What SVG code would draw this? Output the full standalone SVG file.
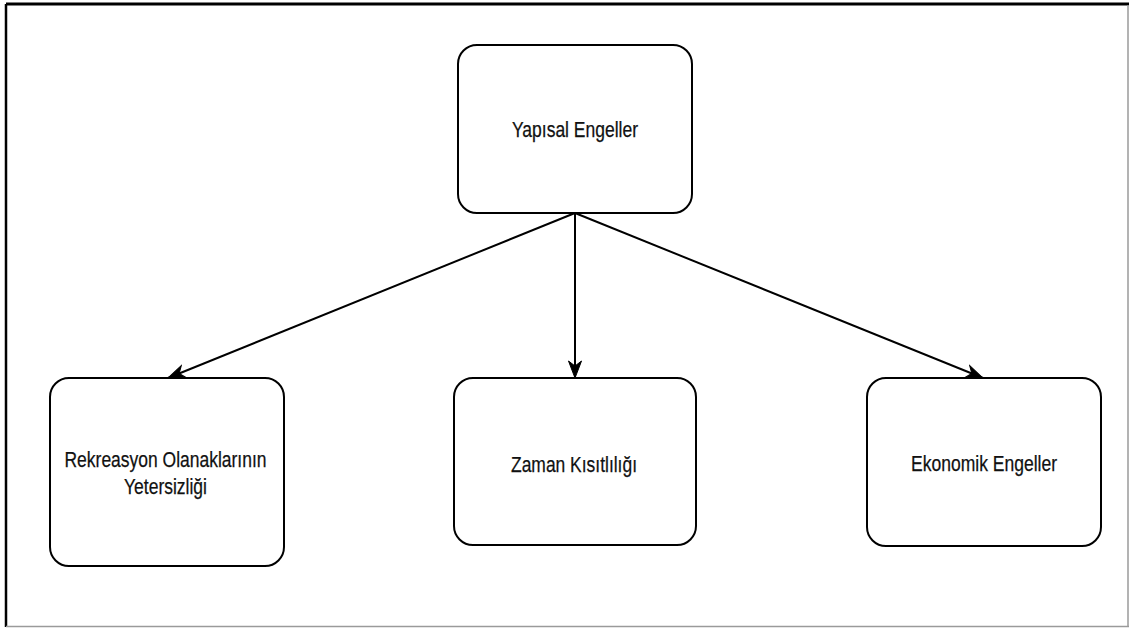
<svg xmlns="http://www.w3.org/2000/svg" width="1130" height="628" viewBox="0 0 1130 628">
  <style>
    .node { fill: #ffffff; stroke: #000000; stroke-width: 2; }
    .label { font-family: "Liberation Sans", Arial, Helvetica, sans-serif; font-size: 22px; fill: #111111; text-anchor: middle; stroke: #111111; stroke-width: 0.25; }
    .edge { fill: none; stroke: #000000; stroke-width: 2; marker-end: url(#arrow); }
  </style>
  <defs>
    <marker id="arrow" markerUnits="userSpaceOnUse" viewBox="-18 -8 19 16" refX="0" refY="0" markerWidth="19" markerHeight="16" orient="auto">
      <path d="M0,0 L-17,-6.5 L-12,0 L-17,6.5 Z" fill="#000000" stroke="#000000" stroke-width="1"/>
    </marker>
  </defs>
  <rect x="0" y="0" width="1130" height="628" fill="#ffffff"/>
  <g id="frame">
    <path d="M6,4 H1129" stroke="#000000" stroke-width="3" fill="none"/>
    <path d="M6,4 V627" stroke="#000000" stroke-width="2.5" fill="none"/>
    <path d="M1128,5 V627" stroke="#9a9a9a" stroke-width="1.5" fill="none"/>
    <path d="M6,626.5 H1129" stroke="#9a9a9a" stroke-width="1.5" fill="none"/>
  </g>
  <g id="connectors">
    <path class="edge" d="M575,213 L168,378"/>
    <path class="edge" d="M575,213 L575,378"/>
    <path class="edge" d="M575,213 L983,378"/>
  </g>
  <g id="node-yapisal">
    <rect class="node" x="458" y="45" width="234" height="168" rx="19" ry="19"/>
    <text class="label" x="575" y="137" textLength="126" lengthAdjust="spacingAndGlyphs">Yapısal Engeller</text>
  </g>
  <g id="node-rekreasyon">
    <rect class="node" x="50" y="378" width="234" height="188" rx="19" ry="19"/>
    <text class="label" x="165.5" y="467" textLength="202" lengthAdjust="spacingAndGlyphs">Rekreasyon Olanaklarının</text>
    <text class="label" x="165.5" y="493.5" textLength="83" lengthAdjust="spacingAndGlyphs">Yetersizliği</text>
  </g>
  <g id="node-zaman">
    <rect class="node" x="454" y="378" width="242" height="167" rx="19" ry="19"/>
    <text class="label" x="574" y="471.5" textLength="126" lengthAdjust="spacingAndGlyphs">Zaman Kısıtlılığı</text>
  </g>
  <g id="node-ekonomik">
    <rect class="node" x="867" y="378" width="234" height="168" rx="19" ry="19"/>
    <text class="label" x="984" y="471" textLength="146" lengthAdjust="spacingAndGlyphs">Ekonomik Engeller</text>
  </g>
</svg>
